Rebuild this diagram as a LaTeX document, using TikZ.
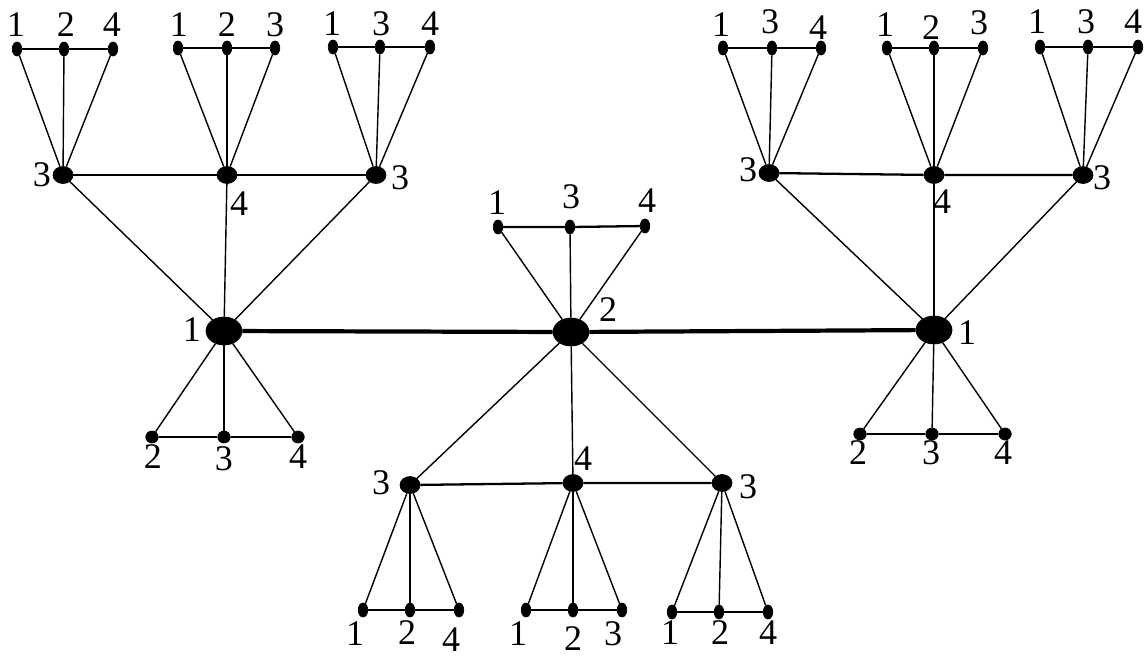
\documentclass[tikz,border=0pt]{standalone}
\usepackage{fontspec}
\setmainfont{Liberation Serif}
\usepackage{tikz}
\usetikzlibrary{positioning,shapes.geometric}
\tikzset{
  hub/.style={ellipse, fill=black, draw=black, minimum width=0.72cm, minimum height=0.56cm, inner sep=0pt},
  mid/.style={ellipse, fill=black, draw=black, minimum width=0.40cm, minimum height=0.34cm, inner sep=0pt},
  leaf/.style={ellipse, fill=black, draw=black, minimum width=0.19cm, minimum height=0.28cm, inner sep=0pt},
  bleaf/.style={ellipse, fill=black, draw=black, minimum width=0.25cm, minimum height=0.24cm, inner sep=0pt},
  ed/.style={draw=black, line width=0.8pt},
  rung/.style={draw=black, line width=1.3pt},
  bar/.style={draw=black, line width=2.4pt},
  lbl/.style={font=\fontsize{20.5}{20.5}\selectfont, inner sep=0pt}
}
\begin{document}
\begin{tikzpicture}[x=0.02cm, y=-0.02cm]
  \useasboundingbox (0,0) rectangle (1148,657);
  % hubs
  \node[hub] (hL) at (224,331) {};
  \node[hub] (hC) at (571,332) {};
  \node[hub] (hR) at (934,330) {};
  \node[lbl] (thL) at (192,330) {1};
  \node[lbl] (thC) at (608,310) {2};
  \node[lbl] (thR) at (967,333) {1};
  % left top
  \node[mid] (a1) at (63,175) {};
  \node[mid] (a2) at (227,175) {};
  \node[mid] (a3) at (376,175) {};
  \node[leaf] (a11) at (17,49) {};
  \node[leaf] (a12) at (64,49) {};
  \node[leaf] (a13) at (113,49) {};
  \node[leaf] (a21) at (178,48) {};
  \node[leaf] (a22) at (227,48) {};
  \node[leaf] (a23) at (275,48) {};
  \node[leaf] (a31) at (333,47) {};
  \node[leaf] (a32) at (380,47) {};
  \node[leaf] (a33) at (430,47) {};
  \node[lbl] (ta1) at (42,175) {3};
  \node[lbl] (ta2) at (239,204) {4};
  \node[lbl] (ta3) at (400,178) {3};
  \node[lbl] (ta11) at (16,25) {1};
  \node[lbl] (ta12) at (66,25) {2};
  \node[lbl] (ta13) at (112,25) {4};
  \node[lbl] (ta21) at (179,25) {1};
  \node[lbl] (ta22) at (227,25) {2};
  \node[lbl] (ta23) at (275,25) {3};
  \node[lbl] (ta31) at (332,24) {1};
  \node[lbl] (ta32) at (381,24) {3};
  \node[lbl] (ta33) at (430,24) {4};
  % left bottom
  \node[bleaf] (l1) at (152,437) {};
  \node[bleaf] (l2) at (224,437) {};
  \node[bleaf] (l3) at (298,437) {};
  \node[lbl] (tl1) at (153,457) {2};
  \node[lbl] (tl2) at (224,459) {3};
  \node[lbl] (tl3) at (298,457) {4};
  % centre top
  \node[leaf] (c1) at (498,227) {};
  \node[leaf] (c2) at (570,227) {};
  \node[leaf] (c3) at (645,226) {};
  \node[lbl] (tc1) at (497,203) {1};
  \node[lbl] (tc2) at (571,197) {3};
  \node[lbl] (tc3) at (647,201) {4};
  % centre bottom
  \node[mid] (b1) at (410,485) {};
  \node[mid] (b2) at (573,483) {};
  \node[mid] (b3) at (722,483) {};
  \node[leaf] (b11) at (363,610) {};
  \node[leaf] (b12) at (410,610) {};
  \node[leaf] (b13) at (459,610) {};
  \node[leaf] (b21) at (526,610) {};
  \node[leaf] (b22) at (573,610) {};
  \node[leaf] (b23) at (622,610) {};
  \node[leaf] (b31) at (672,612) {};
  \node[leaf] (b32) at (719,612) {};
  \node[leaf] (b33) at (768,612) {};
  \node[lbl] (tb1) at (381,483) {3};
  \node[lbl] (tb2) at (583,459) {4};
  \node[lbl] (tb3) at (748,487) {3};
  \node[lbl] (tb11) at (355,634) {1};
  \node[lbl] (tb12) at (407,633) {2};
  \node[lbl] (tb13) at (451,640) {4};
  \node[lbl] (tb21) at (518,634) {1};
  \node[lbl] (tb22) at (573,639) {2};
  \node[lbl] (tb23) at (613,634) {3};
  \node[lbl] (tb31) at (670,633) {1};
  \node[lbl] (tb32) at (720,633) {2};
  \node[lbl] (tb33) at (768,633) {4};
  % right top
  \node[mid] (d1) at (769,173) {};
  \node[mid] (d2) at (934,175) {};
  \node[mid] (d3) at (1083,175) {};
  \node[leaf] (d11) at (723,48) {};
  \node[leaf] (d12) at (772,48) {};
  \node[leaf] (d13) at (821,48) {};
  \node[leaf] (d21) at (887,48) {};
  \node[leaf] (d22) at (934,48) {};
  \node[leaf] (d23) at (983,48) {};
  \node[leaf] (d31) at (1040,47) {};
  \node[leaf] (d32) at (1088,47) {};
  \node[leaf] (d33) at (1138,47) {};
  \node[lbl] (td1) at (748,170) {3};
  \node[lbl] (td2) at (942,202) {4};
  \node[lbl] (td3) at (1102,178) {3};
  \node[lbl] (td11) at (721,25) {1};
  \node[lbl] (td12) at (770,22) {3};
  \node[lbl] (td13) at (818,28) {4};
  \node[lbl] (td21) at (885,25) {1};
  \node[lbl] (td22) at (931,28) {2};
  \node[lbl] (td23) at (979,23) {3};
  \node[lbl] (td31) at (1037,22) {1};
  \node[lbl] (td32) at (1086,22) {3};
  \node[lbl] (td33) at (1133,22) {4};
  % right bottom
  \node[bleaf] (r1) at (860,434) {};
  \node[bleaf] (r2) at (932,434) {};
  \node[bleaf] (r3) at (1005,434) {};
  \node[lbl] (tr1) at (858,453) {2};
  \node[lbl] (tr2) at (931,453) {3};
  \node[lbl] (tr3) at (1003,453) {4};
  % edges
  \draw[bar] (hL)--(hC)--(hR);
  \draw[ed] (hL)--(a1); \draw[ed] (hL)--(a2); \draw[ed] (hL)--(a3);
  \draw[rung] (a1)--(a2)--(a3);
  \draw[ed] (a1)--(a11); \draw[ed] (a1)--(a12); \draw[ed] (a1)--(a13);
  \draw[ed] (a2)--(a21); \draw[ed] (a2)--(a22); \draw[ed] (a2)--(a23);
  \draw[ed] (a3)--(a31); \draw[ed] (a3)--(a32); \draw[ed] (a3)--(a33);
  \draw[rung] (a11)--(a12)--(a13); \draw[rung] (a21)--(a22)--(a23); \draw[rung] (a31)--(a32)--(a33);
  \draw[ed] (hL)--(l1); \draw[ed] (hL)--(l2); \draw[ed] (hL)--(l3);
  \draw[rung] (l1)--(l2)--(l3);
  \draw[ed] (hC)--(c1); \draw[ed] (hC)--(c2); \draw[ed] (hC)--(c3);
  \draw[rung] (c1)--(c2)--(c3);
  \draw[ed] (hC)--(b1); \draw[ed] (hC)--(b2); \draw[ed] (hC)--(b3);
  \draw[rung] (b1)--(b2)--(b3);
  \draw[ed] (b1)--(b11); \draw[ed] (b1)--(b12); \draw[ed] (b1)--(b13);
  \draw[ed] (b2)--(b21); \draw[ed] (b2)--(b22); \draw[ed] (b2)--(b23);
  \draw[ed] (b3)--(b31); \draw[ed] (b3)--(b32); \draw[ed] (b3)--(b33);
  \draw[rung] (b11)--(b12)--(b13); \draw[rung] (b21)--(b22)--(b23); \draw[rung] (b31)--(b32)--(b33);
  \draw[ed] (hR)--(d1); \draw[ed] (hR)--(d2); \draw[ed] (hR)--(d3);
  \draw[rung] (d1)--(d2)--(d3);
  \draw[ed] (d1)--(d11); \draw[ed] (d1)--(d12); \draw[ed] (d1)--(d13);
  \draw[ed] (d2)--(d21); \draw[ed] (d2)--(d22); \draw[ed] (d2)--(d23);
  \draw[ed] (d3)--(d31); \draw[ed] (d3)--(d32); \draw[ed] (d3)--(d33);
  \draw[rung] (d11)--(d12)--(d13); \draw[rung] (d21)--(d22)--(d23); \draw[rung] (d31)--(d32)--(d33);
  \draw[ed] (hR)--(r1); \draw[ed] (hR)--(r2); \draw[ed] (hR)--(r3);
  \draw[rung] (r1)--(r2)--(r3);
\end{tikzpicture}
\end{document}
